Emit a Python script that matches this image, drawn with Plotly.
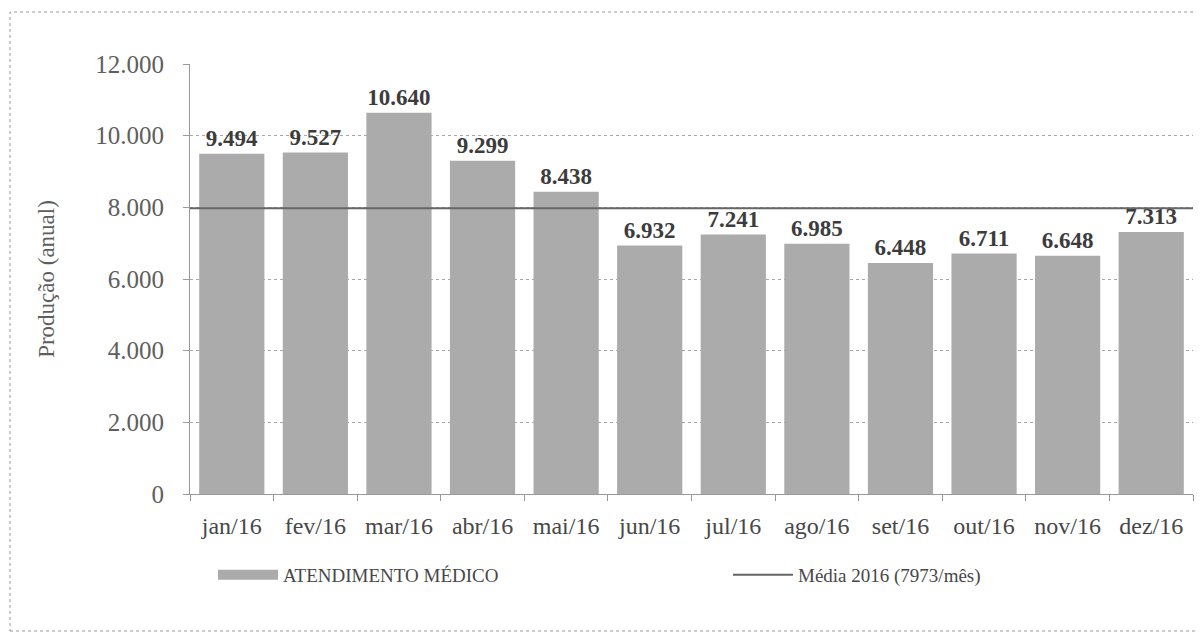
import plotly.graph_objects as go

# Dados
meses = ["jan/16", "fev/16", "mar/16", "abr/16", "mai/16", "jun/16",
         "jul/16", "ago/16", "set/16", "out/16", "nov/16", "dez/16"]
atendimentos = [9494, 9527, 10640, 9299, 8438, 6932, 7241, 6985, 6448, 6711, 6648, 7313]
media_2016 = 7973
y_ticks = [0, 2000, 4000, 6000, 8000, 10000, 12000]

serif = "Liberation Serif, Times New Roman, serif"
bar_color = "#ababab"
text_gray = "#5e5e5e"

# a pagina tem 8px de margem no body
W, H = 1195, 627
L, R, T, B = 182, 10, 56, 141
pw = W - L - R
ph = H - T - B

fig = go.Figure()

fig.add_trace(go.Bar(
    x=meses, y=atendimentos, name="ATENDIMENTO MÉDICO", showlegend=False,
    marker=dict(color=bar_color, line=dict(width=0)),
    texttemplate="<b>%{y:,.0f}</b>", textposition="outside",
    textfont=dict(family=serif, size=23, color="#3c3c3c"),
    cliponaxis=False,
))

# entrada de legenda com amostra larga, como no original
fig.add_trace(go.Scatter(
    x=[None], y=[None], mode="lines", name="ATENDIMENTO MÉDICO",
    line=dict(color=bar_color, width=10), legend="legend",
))

# linha da media
fig.add_shape(type="line", xref="paper", yref="y", x0=0, x1=1,
              y0=media_2016, y1=media_2016,
              line=dict(color="#666666", width=2),
              showlegend=True, name="Média 2016 (7973/mês)", legend="legend2")

# moldura externa
fig.add_shape(type="rect", xref="paper", yref="paper",
              x0=(2 - L) / pw, x1=(W - 2 - L) / pw,
              y0=-(H - 4 - T - ph) / ph, y1=1 + (T - 4) / ph,
              line=dict(color="#9a9a9a", width=1, dash="dot"), layer="below")

fig.update_layout(
    width=W, height=H,
    margin=dict(l=L, r=R, t=T, b=B),
    paper_bgcolor="white", plot_bgcolor="white",
    separators=",.",
    bargap=0.22,
    font=dict(family=serif, color=text_gray),
    xaxis=dict(
        showline=True, linecolor="#999999", linewidth=1,
        ticks="outside", ticklen=6, tickcolor="#999999",
        tickson="boundaries",
        tickfont=dict(family=serif, size=24, color="#474747"),
        ticklabelstandoff=10,
    ),
    yaxis=dict(
        range=[0, 12000], tickvals=y_ticks, tickformat=",d",
        showgrid=True, gridcolor="#a8a8a8", griddash="dot", gridwidth=1,
        showline=True, linecolor="#999999", linewidth=1,
        ticks="outside", ticklen=6, tickcolor="#999999",
        tickfont=dict(family=serif, size=25, color=text_gray),
        ticklabelstandoff=14,
        title=dict(text="Produção (anual)", font=dict(family=serif, size=23, color=text_gray),
                   standoff=34),
        zeroline=False,
    ),
    showlegend=True,
    legend=dict(
        orientation="h", x=(205 - L) / pw, xanchor="left", y=-81 / ph, yanchor="middle",
        itemwidth=60,
        font=dict(family=serif, size=19, color="#474747"),
        bgcolor="rgba(0,0,0,0)",
    ),
    legend2=dict(
        orientation="h", x=(720 - L) / pw, xanchor="left", y=-81 / ph, yanchor="middle",
        itemwidth=60,
        font=dict(family=serif, size=19, color="#474747"),
        bgcolor="rgba(0,0,0,0)",
    ),
)

fig.write_html("out.html")
